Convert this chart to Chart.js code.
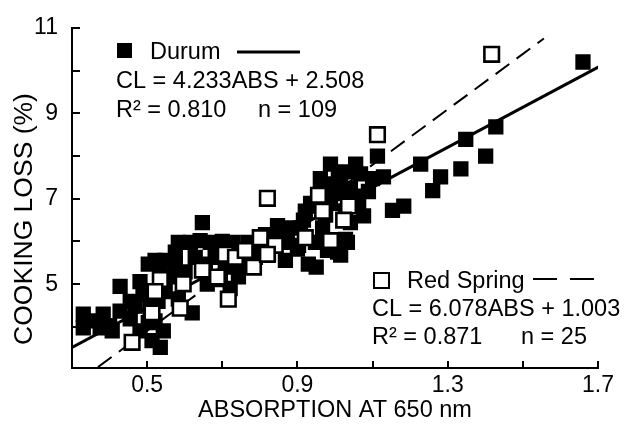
<!DOCTYPE html>
<html>
<head>
<meta charset="utf-8">
<script src="https://cdn.jsdelivr.net/npm/chart.js@4.4.0/dist/chart.umd.min.js"></script>
<style>
  html, body { margin: 0; padding: 0; background: #fff; }
  #wrap { width: 625px; height: 429px; }
</style>
</head>
<body>
<div id="wrap"><canvas id="chart" width="625" height="429"></canvas></div>
<script>
// Durum (quadrados cheios)
const durumX = [0.33, 0.33, 0.375, 0.383, 0.40, 0.428, 0.455, 0.468, 0.481, 0.489,
  0.508, 0.521, 0.513, 0.535, 0.543, 0.503, 0.521, 0.548, 0.535, 0.575,
  0.567, 0.583, 0.615, 0.641, 0.647, 0.628, 0.62, 0.583, 0.66, 0.708,
  0.721, 0.729, 0.769, 0.788, 0.823, 0.855, 0.903, 0.929, 0.921, 0.935,
  0.961, 0.988, 1.015, 1.041, 1.007, 1.033, 0.873, 0.847, 0.90, 0.95,
  0.943, 0.916, 0.988, 1.015, 1.049, 1.076, 1.041, 1.028, 1.015, 0.98,
  1.068, 1.129, 1.10, 1.113, 1.153, 1.183, 1.228, 1.26, 1.281, 1.335,
  1.348, 1.401, 1.428, 1.66, 1.055, 1.028, 0.988, 0.967, 0.881, 0.801,
  0.748, 0.681, 0.601, 0.548, 0.668, 0.695, 0.529, 0.503, 0.361, 0.407,
  0.481, 0.455, 0.815, 0.948, 0.975, 1.001, 1.063, 1.089, 1.028, 0.961,
  1.009, 0.575, 0.761, 0.908, 0.655, 0.70, 0.428, 0.743, 0.868];
const durumY = [4.30, 3.98, 3.98, 4.30, 4.03, 4.95, 4.19, 4.49, 3.91, 4.76,
  4.44, 4.14, 3.68, 3.52, 3.91, 5.47, 5.56, 5.56, 5.29, 5.47,
  5.17, 5.98, 5.98, 6.02, 6.44, 5.63, 4.33, 4.65, 5.00, 5.40,
  4.90, 5.98, 5.98, 5.63, 5.70, 6.25, 5.91, 5.47, 6.71, 6.89,
  7.12, 7.35, 7.47, 7.24, 5.75, 5.98, 5.98, 6.37, 5.82, 5.40,
  6.83, 6.50, 7.81, 7.19, 7.06, 6.60, 6.44, 6.05, 5.68, 5.79,
  7.58, 7.51, 7.47, 8.00, 6.73, 6.83, 7.81, 7.19, 7.51, 7.70,
  8.39, 8.00, 8.68, 10.2, 7.81, 7.63, 6.89, 6.32, 6.32, 5.98,
  5.47, 5.63, 5.29, 4.83, 5.98, 5.11, 4.60, 4.10, 4.14, 3.91,
  5.06, 4.60, 6.16, 5.98, 6.62, 7.12, 6.89, 7.17, 6.71, 7.47,
  7.58, 5.75, 5.75, 6.32, 5.47, 6.00, 4.37, 5.17, 5.56];

// Red Spring (quadrados vazios)
const springX = [0.46, 0.513, 0.535, 0.596, 0.588, 0.647, 0.687, 0.716, 0.708, 0.735,
  0.783, 0.801, 0.841, 0.82, 0.921, 0.956, 0.967, 0.988, 1.036, 1.023,
  1.113, 1.417, 0.82, 0.521, 0.761];
const springY = [3.64, 4.33, 5.11, 5.01, 4.44, 5.33, 5.17, 4.65, 5.70, 5.63,
  5.40, 6.09, 5.91, 7.01, 6.09, 7.08, 6.71, 6.02, 6.83, 6.50,
  8.50, 10.38, 5.70, 4.83, 5.79];

// linhas de regressao, como aparecem na figura
const durumLineX = [0.3, 1.705];
const durumLineY = [3.52, 10.1];
const springLineX = [0.369, 1.556];
const springLineY = [3.06, 10.75];

// eixos
const xTicks = [0.5, 0.7, 0.9, 1.1, 1.3, 1.5, 1.7];
const xLabels = ['0.5', '0.9', '1.3', '1.7'];
const yTicks = [4, 5, 6, 7, 8, 9, 10, 11];
const yLabels = ['5', '7', '9', '11'];

const FONT = "'Liberation Sans', Arial, Helvetica, sans-serif";

function toPoints(xs, ys) {
  return xs.map((x, i) => ({ x: x, y: ys[i] }));
}

// Ticks para dentro + textos da legenda
const extras = {
  id: 'extras',
  afterDraw(chart) {
    const ctx = chart.ctx;
    const sx = chart.scales.x;
    const sy = chart.scales.y;
    const area = chart.chartArea;
    ctx.save();
    ctx.strokeStyle = '#000';
    ctx.fillStyle = '#000';
    ctx.lineWidth = 2;
    ctx.beginPath();
    xTicks.forEach(v => {
      const px = Math.round(sx.getPixelForValue(v));
      ctx.moveTo(px, area.bottom);
      ctx.lineTo(px, area.bottom - 7);
    });
    yTicks.forEach(v => {
      const py = Math.round(sy.getPixelForValue(v));
      ctx.moveTo(area.left, py);
      ctx.lineTo(area.left + 8, py);
    });
    ctx.stroke();

    // titulos dos eixos
    ctx.font = '23.5px ' + FONT;
    ctx.textAlign = 'center';
    ctx.textBaseline = 'middle';
    ctx.fillText('ABSORPTION AT 650 nm', (area.left + area.right) / 2, 411);
    ctx.save();
    ctx.translate(25, 219);
    ctx.rotate(-Math.PI / 2);
    ctx.font = '26.5px ' + FONT;
    ctx.fillText('COOKING LOSS (%)', 0, 0);
    ctx.restore();

    // bloco Durum
    ctx.textAlign = 'left';
    ctx.textBaseline = 'alphabetic';
    ctx.fillRect(117, 43, 15, 15);
    ctx.fillText('Durum', 150, 59);
    ctx.lineWidth = 3;
    ctx.beginPath();
    ctx.moveTo(237, 52);
    ctx.lineTo(300, 52);
    ctx.stroke();
    ctx.fillText('CL = 4.233ABS + 2.508', 116, 88);
    ctx.fillText('R\u00B2 = 0.810', 116, 117);
    ctx.fillText('n = 109', 258, 117);

    // bloco Red Spring
    ctx.lineWidth = 2;
    ctx.strokeRect(374, 273, 15, 15);
    ctx.fillText('Red Spring', 407, 288);
    ctx.beginPath();
    ctx.moveTo(533, 279);
    ctx.lineTo(557, 279);
    ctx.moveTo(570, 279);
    ctx.lineTo(594, 279);
    ctx.stroke();
    ctx.fillText('CL = 6.078ABS + 1.003', 372, 316);
    ctx.fillText('R\u00B2 = 0.871', 372, 344);
    ctx.fillText('n = 25', 521, 344);
    ctx.restore();
  }
};

const ctx = document.getElementById('chart').getContext('2d');
const chart = new Chart(ctx, {
  type: 'scatter',
  data: {
    datasets: [
      {
        label: 'Red Spring',
        data: toPoints(springX, springY),
        pointStyle: 'rect',
        pointRadius: 10.3,
        backgroundColor: '#fff',
        borderColor: '#000',
        borderWidth: 2.6,
        order: 0
      },
      {
        label: 'Durum fit',
        type: 'line',
        data: toPoints(durumLineX, durumLineY),
        borderColor: '#000',
        borderWidth: 3,
        pointRadius: 0,
        fill: false,
        order: 1
      },
      {
        label: 'Red Spring fit',
        type: 'line',
        data: toPoints(springLineX, springLineY),
        borderColor: '#000',
        borderWidth: 2,
        borderDash: [17, 9],
        pointRadius: 0,
        fill: false,
        order: 1
      },
      {
        label: 'Durum',
        data: toPoints(durumX, durumY),
        pointStyle: 'rect',
        pointRadius: 10.8,
        backgroundColor: '#000',
        borderColor: '#000',
        borderWidth: 0,
        order: 2
      }
    ]
  },
  options: {
    responsive: false,
    animation: false,
    devicePixelRatio: 1,
    layout: { padding: { left: 0, top: 21, right: 27, bottom: 0 } },
    plugins: {
      legend: { display: false },
      tooltip: { enabled: false }
    },
    scales: {
      x: {
        type: 'linear',
        min: 0.3,
        max: 1.7,
        afterFit: s => { s.height = 61; },
        afterBuildTicks: s => { s.ticks = xTicks.map(v => ({ value: v })); },
        grid: { display: false, drawTicks: false },
        border: { display: true, color: '#000', width: 2 },
        ticks: {
          autoSkip: false,
          maxRotation: 0,
          padding: 4,
          color: '#000',
          font: { family: FONT, size: 23 },
          callback: v => {
            const t = v.toFixed(1);
            return xLabels.includes(t) ? t : '';
          }
        }
      },
      y: {
        type: 'linear',
        min: 3.04,
        max: 11,
        afterFit: s => { s.width = 72; },
        afterBuildTicks: s => { s.ticks = yTicks.map(v => ({ value: v })); },
        grid: { display: false, drawTicks: false },
        border: { display: true, color: '#000', width: 2 },
        ticks: {
          autoSkip: false,
          padding: 14,
          color: '#000',
          font: { family: FONT, size: 23 },
          callback: v => {
            const t = String(v);
            return yLabels.includes(t) ? t : '';
          }
        }
      }
    }
  },
  plugins: [extras]
});
</script>
</body>
</html>
